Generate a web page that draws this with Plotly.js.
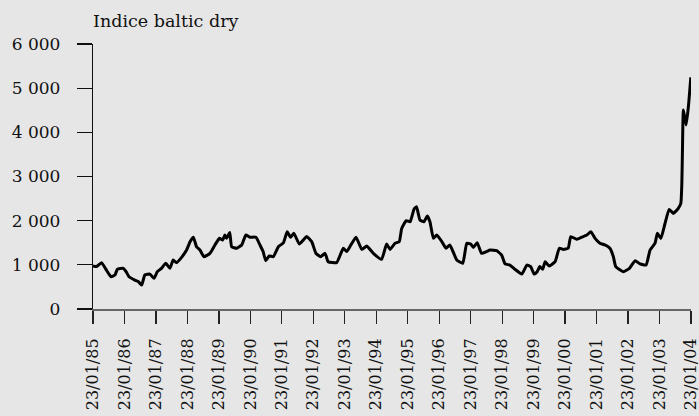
<!DOCTYPE html>
<html>
<head>
<meta charset="utf-8">
<script src="https://cdn.plot.ly/plotly-3.0.1.min.js"></script>
<style>html,body{margin:0;padding:0;background:#e6e6e6;}#chart{width:699px;height:416px;}</style>
</head>
<body>
<div id="chart"></div>
<script>
// Baltic Dry Index
var dates = [
"1985-01-23","1985-03-05","1985-05-02","1985-06-28","1985-08-20","1985-10-05","1985-11-02",
"1986-01-11","1986-02-11","1986-03-17","1986-05-23","1986-07-02","1986-08-11","1986-09-17","1986-11-14",
"1987-01-02","1987-02-08","1987-03-29","1987-05-17","1987-07-05","1987-08-11","1987-09-20","1987-11-17",
"1988-01-14","1988-02-23","1988-04-02","1988-05-08","1988-06-17","1988-08-02","1988-10-11","1988-12-08",
"1989-01-29","1989-03-08","1989-04-02","1989-04-23","1989-05-29","1989-06-20","1989-08-17","1989-10-14","1989-12-02",
"1990-01-17","1990-03-29","1990-05-14","1990-06-20","1990-07-20","1990-08-29","1990-10-17","1990-12-14",
"1991-02-11","1991-03-26","1991-05-05","1991-06-11","1991-08-14","1991-09-29","1991-11-08",
"1992-01-05","1992-02-23","1992-04-17","1992-06-08","1992-07-14","1992-10-20",
"1993-01-05","1993-02-14","1993-03-23","1993-06-02","1993-08-08","1993-10-05","1993-12-20",
"1994-03-26","1994-05-23","1994-07-02","1994-08-29","1994-10-17","1994-11-14",
"1995-01-05","1995-02-20","1995-04-05","1995-05-05","1995-06-14","1995-07-29","1995-09-08","1995-10-08","1995-11-17","1995-12-26",
"1996-02-23","1996-04-11","1996-05-26","1996-08-14","1996-10-23","1996-12-08",
"1997-01-23","1997-02-23","1997-04-08","1997-05-29","1997-07-26","1997-09-05","1997-11-20",
"1998-01-17","1998-02-26","1998-04-23","1998-06-20","1998-09-08","1998-11-05","1998-12-20",
"1999-01-29","1999-03-05","1999-04-05","1999-05-08","1999-06-05","1999-07-23","1999-09-29","1999-11-17",
"2000-01-02","2000-02-28","2000-03-29","2000-06-05","2000-08-02","2000-10-02","2000-11-17",
"2001-01-05","2001-03-02","2001-04-29","2001-06-26","2001-08-05","2001-09-02","2001-11-29",
"2002-02-08","2002-04-14","2002-06-11","2002-08-20","2002-10-05","2002-12-02","2002-12-29",
"2003-02-08","2003-03-26","2003-05-14","2003-07-02","2003-08-29","2003-09-27","2003-10-09","2003-10-16","2003-10-27",
"2003-11-28","2003-12-24","2004-01-21"
];
var bdi = [
975,960,1050,880,730,770,900,
920,845,730,655,620,545,770,790,
695,845,920,1035,920,1110,1050,1170,
1335,1525,1625,1410,1335,1185,1260,1450,
1600,1560,1675,1600,1730,1410,1375,1450,1675,
1625,1625,1450,1300,1095,1200,1185,1410,
1500,1750,1625,1715,1470,1560,1640,
1525,1260,1185,1260,1070,1050,
1375,1300,1410,1625,1350,1425,1260,
1125,1470,1350,1490,1525,1825,
2000,1975,2255,2315,2015,1975,2105,1975,1600,1675,
1525,1375,1450,1110,1035,1490,
1470,1395,1500,1260,1300,1335,1320,
1220,1020,995,900,790,995,960,
790,845,960,900,1070,975,1070,1375,
1350,1375,1640,1580,1625,1675,1750,
1600,1490,1450,1375,1185,960,845,
920,1095,1020,995,1335,1490,1715,
1600,1925,2255,2165,2280,2390,2850,3600,4505,
4165,4580,5245
];
var tickDates = ["1985-01-23","1986-01-23","1987-01-23","1988-01-23","1989-01-23","1990-01-23","1991-01-23",
"1992-01-23","1993-01-23","1994-01-23","1995-01-23","1996-01-23","1997-01-23","1998-01-23",
"1999-01-23","2000-01-23","2001-01-23","2002-01-23","2003-01-23","2004-01-23"];
var tickLabels = ["23/01/85","23/01/86","23/01/87","23/01/88","23/01/89","23/01/90","23/01/91",
"23/01/92","23/01/93","23/01/94","23/01/95","23/01/96","23/01/97","23/01/98",
"23/01/99","23/01/00","23/01/01","23/01/02","23/01/03","23/01/04"];
var yTicks = [0,1000,2000,3000,4000,5000,6000];
var yLabels = ["0","1 000","2 000","3 000","4 000","5 000","6 000"];
var titleText = "Indice baltic dry";

var FONT = "DejaVu Serif";
var trace = {
  x: dates, y: bdi, type: "scatter", mode: "lines",
  line: {color: "#000000", width: 3, shape: "spline", smoothing: 0.4},
  hoverinfo: "x+y"
};
var layout = {
  width: 699, height: 416,
  margin: {l: 93, r: 8, t: 44, b: 107, pad: 0},
  paper_bgcolor: "#e6e6e6", plot_bgcolor: "#e6e6e6",
  showlegend: false,
  font: {family: FONT, size: 17, color: "#111"},
  title: {text: titleText, font: {family: FONT, size: 17.5, color: "#111"},
          x: 93/699, xref: "container", xanchor: "left", y: 1 - 21/416, yref: "container", yanchor: "middle"},
  xaxis: {
    type: "date", range: ["1985-01-23", "2004-01-23 04:00"],
    tickmode: "array", tickvals: tickDates, ticktext: tickLabels, tickangle: -90,
    ticks: "outside", ticklen: 13, tickwidth: 1.2, tickcolor: "#222",
    showline: true, linecolor: "#666", linewidth: 2,
    showgrid: false, zeroline: false, ticklabelstandoff: 8, ticklabeloverflow: "allow",
    tickfont: {family: FONT, size: 16, color: "#111"}
  },
  yaxis: {
    range: [0, 6000], tickmode: "array", tickvals: yTicks, ticktext: yLabels,
    ticks: "outside", ticklen: 15, tickwidth: 1.2, tickcolor: "#111",
    showline: true, linecolor: "#111", linewidth: 1.2,
    showgrid: false, zeroline: false, ticklabelstandoff: 13,
    tickfont: {family: FONT, size: 17, color: "#111"}
  }
};
Plotly.newPlot("chart", [trace], layout, {displayModeBar: false, staticPlot: true});
</script>
</body>
</html>
